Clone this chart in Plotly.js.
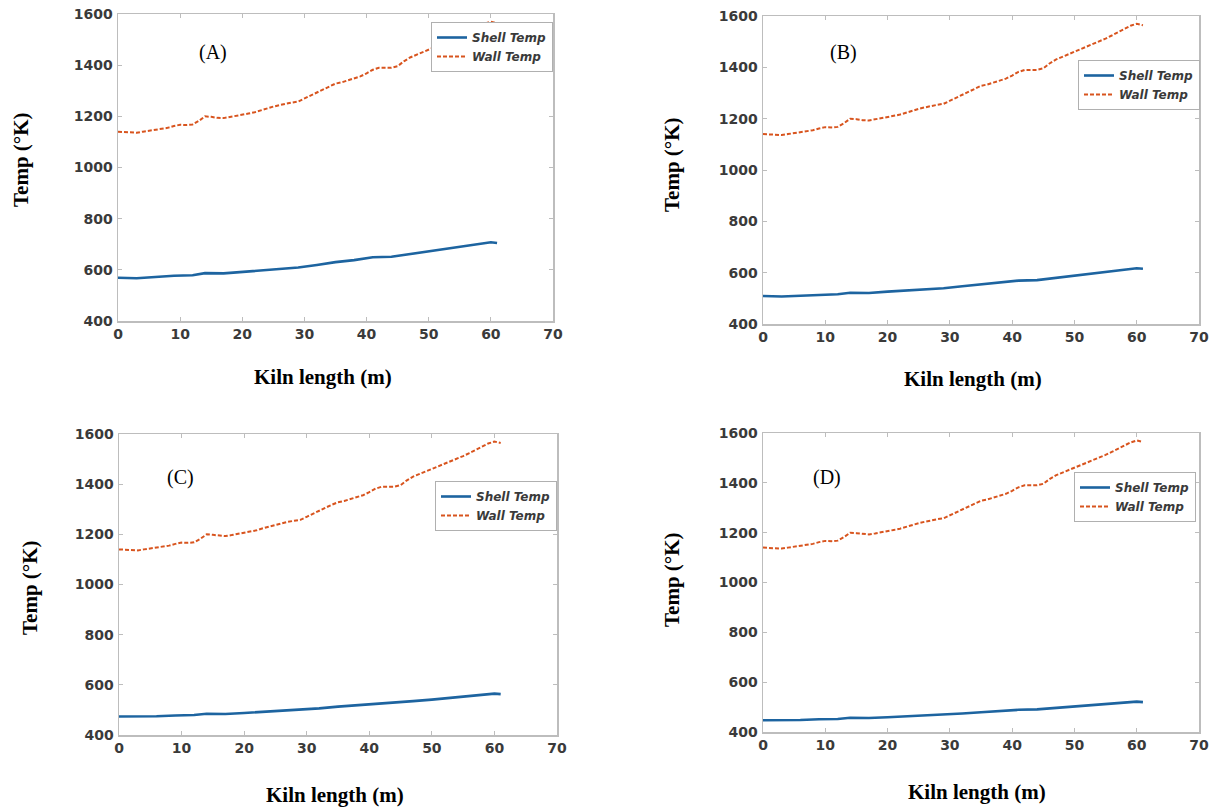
<!DOCTYPE html>
<html>
<head>
<meta charset="utf-8">
<script src="https://cdn.plot.ly/plotly-3.0.1.min.js"></script>
<style>
html,body{margin:0;padding:0;background:#fff;}
#chart{width:1214px;height:809px;}
</style>
</head>
<body>
<div id="chart"></div>
<script>
// ---- Data ----
const panelLabels = ["(A)", "(B)", "(C)", "(D)"];
const seriesNames = ["Shell Temp", "Wall Temp"];
const xTickVals = [0, 10, 20, 30, 40, 50, 60, 70];
const yTickVals = [400, 600, 800, 1000, 1200, 1400, 1600];

const wallX = [0,1,2,3,4,5,6,7,8,9,10,11,12,13,14,15,16,17,18,19,20,21,22,23,24,25,26,27,28,29,30,
  31,32,33,34,35,36,37,38,39,40,41,42,43,44,45,46,47,48,49,50,51,52,53,54,55,56,57,58,59,60,61];
const wallTemp = [1140,1138,1136,1136,1140,1144,1148,1150,1155,1162,1167,1166,1168,1182,1200,1198,
  1194,1193,1197,1201,1206,1211,1216,1224,1231,1238,1244,1250,1254,1258,1270,1283,1295,1306,1318,
  1328,1333,1340,1347,1356,1368,1382,1390,1391,1390,1396,1415,1430,1440,1450,1460,1470,1481,1492,
  1502,1512,1524,1536,1548,1562,1570,1564];

const shellX = [0,3,6,9,12,14,17,20,23,26,29,32,35,38,41,44,47,50,53,56,59,60,61];
const shellA = [569,567,572,577,579,587,586,592,598,604,609,619,630,638,649,651,662,672,684,696,706,708,705];
const shellB = [509,507,510,514,516,522,521,526,530,535,539,547,555,561,569,571,580,588,597,606,614,617,615];
const shellC = [474,473,475,478,480,485,484,488,492,496,499,506,513,518,525,527,535,541,549,556,563,565,563];
const shellD = [447,446,448,451,452,457,456,459,462,465,468,474,479,484,489,491,497,502,508,514,520,522,520];
const shellSets = [shellA, shellB, shellC, shellD];

// ---- Layout geometry (pixels in the 1214x809 page) ----
const W = 1214, H = 809;
const boxes = [
  {l:118, r:553, t:14,  b:321, leg:{r:553,  t:22},  lab:{x:213, y:53},  yt:{x:21,  y:160}, xt:{x:323, y:377}},
  {l:763, r:1199,t:16,  b:324, leg:{r:1200, t:60},  lab:{x:843, y:52},  yt:{x:672, y:165}, xt:{x:973, y:379}},
  {l:119, r:557, t:434, b:735, leg:{r:557,  t:481}, lab:{x:180, y:477}, yt:{x:30,  y:588}, xt:{x:335, y:795}},
  {l:763, r:1199,t:433, b:732, leg:{r:1196, t:472}, lab:{x:827, y:477}, yt:{x:672, y:580}, xt:{x:977, y:792}}
];
const px = v => v / W;
const py = v => 1 - v / H;

const shellColor = '#1d64a0';
const wallColor = '#d8541e';
const axisGrey = '#bdbdbd';
const tickFont = {family:'DejaVu Sans, sans-serif', size:14, color:'#3a3a3a', weight:'bold'};
const serifBold = {family:'Liberation Serif, Times New Roman, serif', size:21, color:'#000', weight:'bold'};

const data = [];
const layout = {
  width: W, height: H,
  margin: {l:0, r:0, t:0, b:0},
  paper_bgcolor: '#fff',
  plot_bgcolor: '#fff',
  showlegend: true,
  annotations: []
};

boxes.forEach((bx, i) => {
  const n = i === 0 ? '' : String(i + 1);
  const legName = 'legend' + n;
  data.push({
    x: shellX, y: shellSets[i], name: seriesNames[0], type: 'scatter', mode: 'lines',
    xaxis: 'x' + n, yaxis: 'y' + n, legend: legName,
    line: {color: shellColor, width: 2.6}
  });
  data.push({
    x: wallX, y: wallTemp, name: seriesNames[1], type: 'scatter', mode: 'lines',
    xaxis: 'x' + n, yaxis: 'y' + n, legend: legName,
    line: {color: wallColor, width: 2, dash: '4px,2px'}
  });
  layout['xaxis' + n] = {
    domain: [px(bx.l), px(bx.r)], anchor: 'y' + n,
    range: [0, 70], tickvals: xTickVals, showgrid: false, zeroline: false,
    showline: true, linecolor: axisGrey, linewidth: 1.5, mirror: 'ticks',
    ticks: 'inside', ticklen: 4, tickcolor: axisGrey, tickwidth: 1,
    tickfont: tickFont, ticklabelstandoff: 0
  };
  layout['yaxis' + n] = {
    domain: [py(bx.b), py(bx.t)], anchor: 'x' + n,
    range: [400, 1600], tickvals: yTickVals, showgrid: false, zeroline: false,
    showline: true, linecolor: axisGrey, linewidth: 1.5, mirror: 'ticks',
    ticks: 'inside', ticklen: 4, tickcolor: axisGrey, tickwidth: 1,
    tickfont: tickFont, ticklabelstandoff: 1
  };
  layout[legName] = {
    x: px(bx.leg.r), y: py(bx.leg.t), xanchor: 'right', yanchor: 'top',
    xref: 'paper', yref: 'paper',
    bgcolor: '#fff', bordercolor: '#b0b0b0', borderwidth: 1,
    font: {family:'DejaVu Sans, sans-serif', size:12, color:'#3a3a3a', style:'italic', weight:'bold'},
    tracegroupgap: 0, itemwidth: 30
  };
  layout.annotations.push({
    text: panelLabels[i], xref: 'paper', yref: 'paper',
    x: px(bx.lab.x), y: py(bx.lab.y), xanchor: 'center', yanchor: 'middle', showarrow: false,
    font: {family:'Liberation Serif, Times New Roman, serif', size:20, color:'#000'}
  });
  layout.annotations.push({
    text: 'Temp (°K)', xref: 'paper', yref: 'paper', textangle: -90,
    x: px(bx.yt.x), y: py(bx.yt.y), xanchor: 'center', yanchor: 'middle', showarrow: false,
    font: serifBold
  });
  layout.annotations.push({
    text: 'Kiln length (m)', xref: 'paper', yref: 'paper',
    x: px(bx.xt.x), y: py(bx.xt.y), xanchor: 'center', yanchor: 'middle', showarrow: false,
    font: serifBold
  });
});

Plotly.newPlot('chart', data, layout, {staticPlot: true, displayModeBar: false});
</script>
</body>
</html>
